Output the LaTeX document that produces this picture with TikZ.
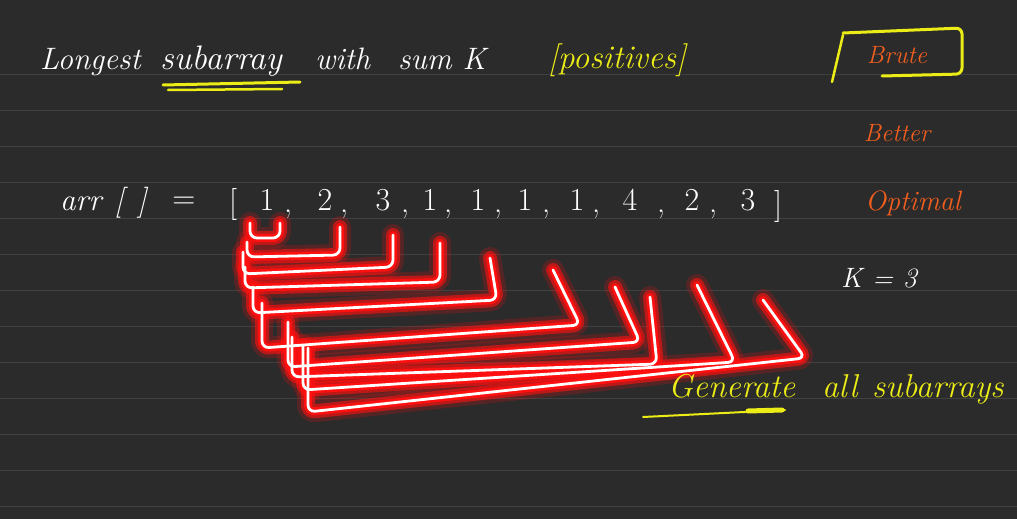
\documentclass[tikz,border=0pt]{standalone}
\usepackage{tikz}
\usetikzlibrary{calc}
\definecolor{board}{RGB}{43,43,43}
\definecolor{ruling}{RGB}{64,64,64}
\definecolor{hlyellow}{RGB}{236,236,22}
\definecolor{penorange}{RGB}{242,94,30}
\definecolor{glowred}{RGB}{255,16,16}
% subarray brackets: left x / top y / bottom y / right x / right y / tip x / tip y
\def\sublist{250/223/238/280/238/280/223, 247/242/257/340/255/340/227,
  243/252/274/393/267/393/235, 245/267/288/440/282/440/243,
  253/287/313/497/300/490/258, 262/303/348/580/325/553/270,
  288/322/367/640/342/615/287, 292/337/377/657/364/650/297,
  303/345/390/735/362/697/285, 308/348/412/805/358/763/300}

\begin{document}
\begin{tikzpicture}[x=1pt,y=-1pt,
    chalk/.style={text=white,inner sep=0pt,font=\fontsize{31}{36}\selectfont\itshape},
    digit/.style={text=white,inner sep=0pt,font=\fontsize{32}{38}\selectfont},
    marker/.style={text=hlyellow,inner sep=0pt,font=\fontsize{33}{38}\selectfont\itshape},
    method/.style={text=penorange,inner sep=0pt,font=\fontsize{25}{30}\selectfont\itshape},
    bracketline/.style={rounded corners=7pt,line cap=round,line join=round}]
    \fill[board] (0,0) rectangle (1017,519);
    \useasboundingbox (0,0) rectangle (1017,519);
    \foreach \y in {74,110,...,506}
        \draw[ruling, line width=0.9pt] (0,\y) -- (1017,\y);

    % title
    \node[chalk, anchor=base west] (tlong) at (40,70) {Longest};
    \node[chalk, anchor=base west, font=\fontsize{34}{40}\selectfont\itshape] (tsub) at (160,70) {subarray};
    \node[chalk, anchor=base west] (twith) at (315,70) {with};
    \node[chalk, anchor=base west] (tsum) at (398,70) {sum K};
    \node[marker, anchor=base west] (tpos) at (548,68) {[positives]};
    \draw[hlyellow, line width=3pt, line cap=round] (163,85) -- (300,82);
    \draw[hlyellow, line width=2.5pt, line cap=round] (168,90) -- (282,89);

    % methods
    \node[method] (brute) at (897,55) {Brute};
    \node[method] (better) at (897,133) {Better};
    \node[method, font=\fontsize{28}{34}\selectfont\itshape] (optimal) at (913,203) {Optimal};
    \draw[hlyellow, line width=2.5pt, line cap=round] (843,35) -- (832,82);
    \draw[hlyellow, line width=3pt, line cap=round, rounded corners=6pt]
        (843,33) -- (962,28) -- (962,74) -- (882,76);
    \node[chalk, font=\fontsize{28}{34}\selectfont\itshape] (kval) at (879,278) {K = 3};

    % the array
    \node[chalk, anchor=base west] (arrname) at (60,210) {arr};
    \node[chalk, anchor=base] (arrl) at (119,210) {[};
    \node[chalk, anchor=base] (arrr) at (142,210) {]};
    \node[digit, anchor=base] (eq) at (184,208) {=};
    \node[digit, anchor=base] (lbrack) at (233,212) {[};
    \node[digit, anchor=base] (rbrack) at (778,214) {]};
    \foreach \v/\x [count=\i] in {1/267,2/325,3/383,1/430,1/478,1/525,1/577,4/630,2/692,3/748}
        \node[digit, anchor=base] (el\i) at (\x,210) {\v};
    \foreach \x [count=\i] in {288,344,405,448,498,546,596,661,713}
        \node[digit, anchor=base] (cm\i) at (\x,212) {,};

    % all subarrays starting at index 0
    \foreach \lx/\ly/\by/\rx/\ry/\tx/\ty in \sublist {
        \draw[glowred, line width=22pt, opacity=0.2, bracketline] (\lx,\ly) -- (\lx,\by) -- (\rx,\ry) -- (\tx,\ty);
        \draw[glowred, line width=14pt, opacity=0.6, bracketline] (\lx,\ly) -- (\lx,\by) -- (\rx,\ry) -- (\tx,\ty);
        \draw[glowred, line width=8pt, bracketline] (\lx,\ly) -- (\lx,\by) -- (\rx,\ry) -- (\tx,\ty);
    }
    \foreach \lx/\ly/\by/\rx/\ry/\tx/\ty in \sublist
        \draw[white, line width=2.8pt, bracketline] (\lx,\ly) -- (\lx,\by) -- (\rx,\ry) -- (\tx,\ty);

    \node[marker, anchor=base west] (tgen) at (668,397) {Generate};
    \node[marker, anchor=base west] (tall) at (822,397) {all};
    \node[marker, anchor=base west] (tsubs) at (872,397) {subarrays};
    \draw[hlyellow, line width=2pt, line cap=round] (643,417) -- (785,410);
    \draw[hlyellow, line width=5pt, line cap=round] (748,411) -- (782,410);
\end{tikzpicture}
\end{document}
